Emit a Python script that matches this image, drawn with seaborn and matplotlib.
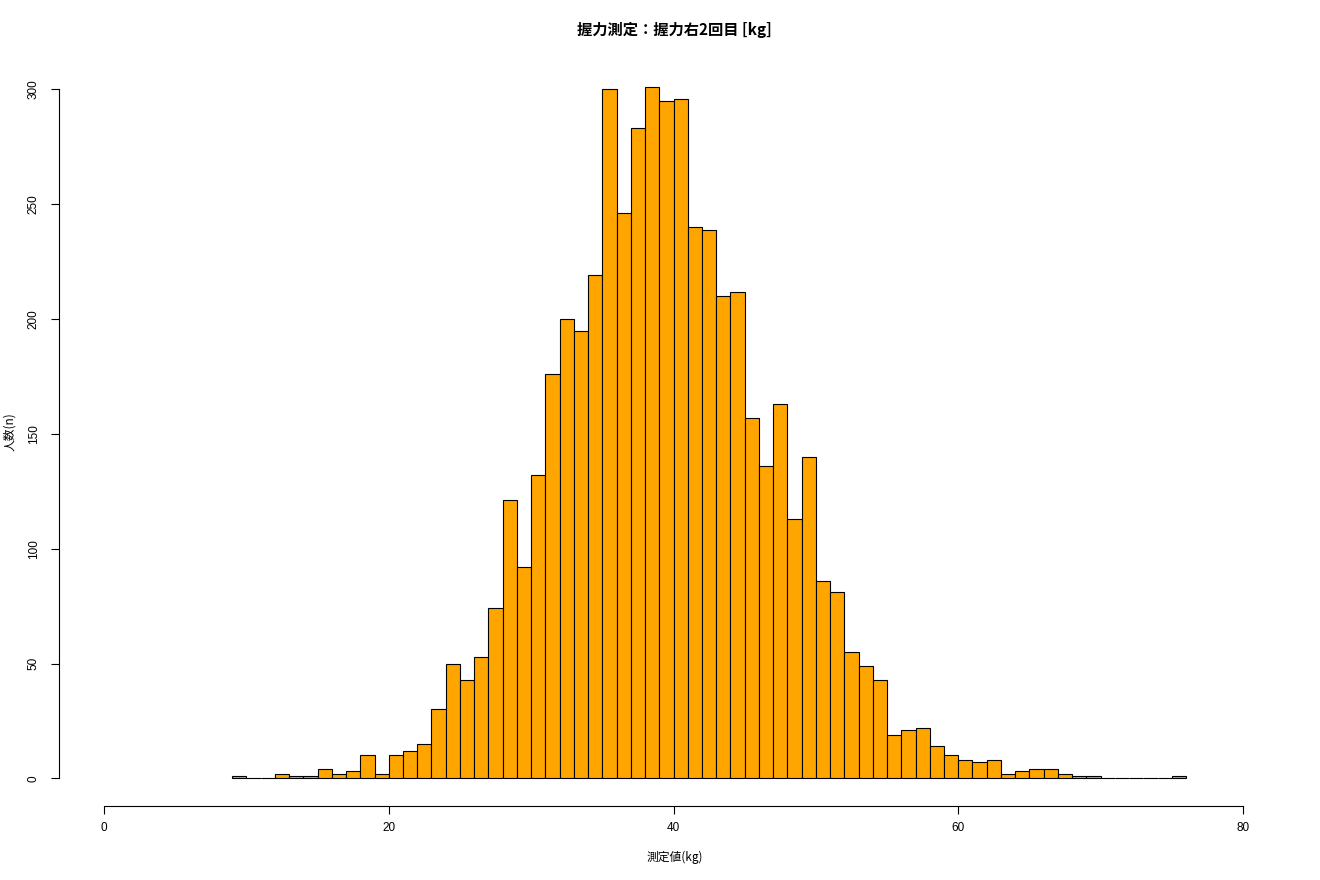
import numpy as np
import pandas as pd
import matplotlib
matplotlib.use("Agg")
import matplotlib.pyplot as plt
import seaborn as sns

# ---- data (1 kg bins) ----
bin_left = list(range(9, 76))  # 9..75, bins [k, k+1)
counts = [1, 0, 0, 2, 1, 1, 4, 2, 3, 10,
          2, 10, 12, 15, 30, 50, 43, 53, 74, 121,
          92, 132, 176, 200, 195, 219, 300, 246, 283, 301,
          295, 296, 240, 239, 210, 212, 157, 136, 163, 113,
          140, 86, 81, 55, 49, 43, 19, 21, 22, 14,
          10, 8, 7, 8, 2, 3, 4, 4, 2, 1,
          1, 0, 0, 0, 0, 0, 1]
bin_edges = list(range(9, 77))
title = "握力測定：握力右2回目 [kg]"
xlabel = "測定値(kg)"
ylabel = "人数(n)"
xticks = [0, 20, 40, 60, 80]
yticks = [0, 50, 100, 150, 200, 250, 300]

df = pd.DataFrame({"value": [b + 0.5 for b in bin_left], "n": counts})

sns.set_style("white")
plt.rcParams["font.family"] = ["Noto Sans CJK JP", "DejaVu Sans"]
plt.rcParams["text.color"] = "black"
plt.rcParams["axes.labelcolor"] = "black"

fig = plt.figure(figsize=(13.2, 8.8), dpi=100)
W, H = 1320, 880
left_px, right_px = 58.5, 1288.5
bottom_px, top_px = 806, 59.5
ax = fig.add_axes([left_px / W, 1 - bottom_px / H,
                   (right_px - left_px) / W, (bottom_px - top_px) / H])

sns.histplot(data=df, x="value", weights="n", bins=bin_edges, ax=ax,
             color="#FFA500", edgecolor="black", linewidth=0.8, alpha=1.0)

ax.set_xlim(-3.2, 83.2)
ax.set_ylim(-12.04, 313.04)

for s in ["top", "right"]:
    ax.spines[s].set_visible(False)
ax.spines["bottom"].set_bounds(0, 80)
ax.spines["left"].set_bounds(0, 300)
for s in ["bottom", "left"]:
    ax.spines[s].set_color("black")
    ax.spines[s].set_linewidth(0.8)

ax.set_xticks(xticks)
ax.set_yticks(yticks)
ax.set_xticklabels([str(v) for v in xticks])
ax.set_yticklabels([str(v) for v in yticks])
ax.tick_params(axis="both", which="major", bottom=True, left=True,
               direction="out", length=5.5, width=0.8,
               color="black", labelsize=8.5, labelcolor="black")
ax.tick_params(axis="x", pad=6)
ax.tick_params(axis="y", pad=8, labelrotation=90)
for lab in ax.get_yticklabels():
    lab.set_va("center")
    lab.set_ha("right")
    lab.set_family(["Liberation Sans", "DejaVu Sans"])
for lab in ax.get_xticklabels():
    lab.set_family(["Liberation Sans", "DejaVu Sans"])

ax.set_xlabel(xlabel, fontsize=8.5, color="black")
ax.set_ylabel(ylabel, fontsize=8.5, color="black")
ax.xaxis.set_label_coords((675 - left_px) / (right_px - left_px),
                          -(857 - bottom_px) / (bottom_px - top_px))
ax.xaxis.label.set_va("center")
ax.yaxis.set_label_coords(-(left_px - 10) / (right_px - left_px),
                          (bottom_px - 432) / (bottom_px - top_px))
ax.yaxis.label.set_va("center")

ax.set_title(title, fontsize=11, fontweight="bold", color="black",
             y=1 + (top_px - 30) / (bottom_px - top_px), va="center", pad=0,
             x=(674 - left_px) / (right_px - left_px))

ax.grid(False)
fig.savefig("out.png", dpi=100, facecolor="white")
